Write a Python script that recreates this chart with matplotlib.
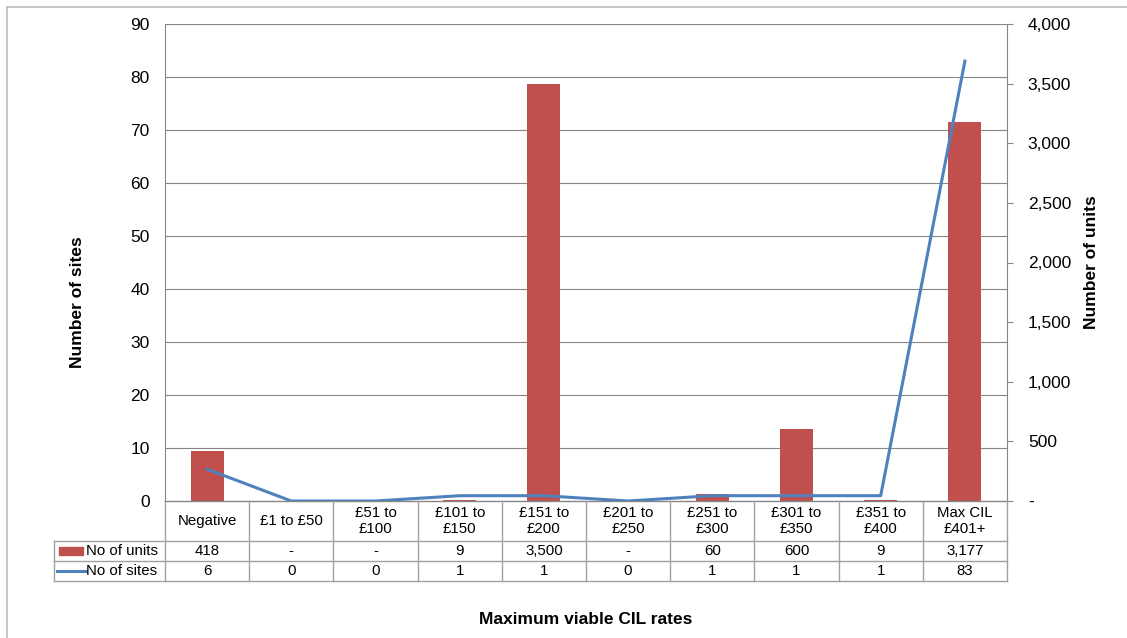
import matplotlib
matplotlib.use("Agg")
import matplotlib.pyplot as plt
from matplotlib.lines import Line2D
from matplotlib.patches import Rectangle
from matplotlib.transforms import blended_transform_factory

plt.rcParams['font.family'] = ['Liberation Sans', 'DejaVu Sans']

categories = ["Negative", "£1 to £50", "£51 to\n£100", "£101 to\n£150", "£151 to\n£200",
              "£201 to\n£250", "£251 to\n£300", "£301 to\n£350", "£351 to\n£400", "Max CIL\n£401+"]
units = [418, 0, 0, 9, 3500, 0, 60, 600, 9, 3177]
sites = [6, 0, 0, 1, 1, 0, 1, 1, 1, 83]
left_ticks = [0, 10, 20, 30, 40, 50, 60, 70, 80, 90]
right_ticks = [0, 500, 1000, 1500, 2000, 2500, 3000, 3500, 4000]

W, H = 1127, 638
fig = plt.figure(figsize=(W / 100, H / 100), dpi=100)

L, R, T, B = 165, 1007, 24, 501
rect = [L / W, (H - B) / H, (R - L) / W, (B - T) / H]
GRAY = "#868686"
RED = "#C0504D"
BLUE = "#4F81BD"
FS_TICK = 12.5
FS_TAB = 10.8

# outer chart border
fig.add_artist(Line2D([7 / W, 1.0], [1 - 7 / H, 1 - 7 / H], color="#BFBFBF", lw=1.2))
fig.add_artist(Line2D([7 / W, 7 / W], [0, 1 - 7 / H], color="#BFBFBF", lw=1.2))

ax_b = fig.add_axes(rect)   # bars, right axis
ax_l = fig.add_axes(rect)   # line, left axis
ax_l.patch.set_visible(False)

n = len(categories)
x = list(range(n))

# bars
ax_b.bar(x, units, width=0.39, color=RED, zorder=3)
ax_b.set_xlim(-0.5, n - 0.5)
ax_b.set_ylim(right_ticks[0], right_ticks[-1])
ax_b.yaxis.tick_right()
ax_b.set_yticks(right_ticks)
ax_b.set_yticklabels(["-" if v == 0 else f"{v:,}" for v in right_ticks], fontsize=FS_TICK, ha="left")
ax_b.tick_params(axis="y", direction="out", length=4, color=GRAY, pad=11)
ax_b.set_xticks([])
for s in ["left", "top", "bottom"]:
    ax_b.spines[s].set_visible(False)
ax_b.spines["right"].set_color(GRAY)

# gridlines (left axis) drawn behind bars
gtr = blended_transform_factory(ax_b.transAxes, ax_l.transData)
ax_l.set_ylim(left_ticks[0], left_ticks[-1])
for v in left_ticks[1:]:
    ax_b.add_line(Line2D([0, 1], [v, v], transform=gtr, color=GRAY, lw=0.8, zorder=1))

# line
ax_l.plot(x, sites, color=BLUE, lw=2.2, zorder=4)
ax_l.set_xlim(-0.5, n - 0.5)
ax_l.set_yticks(left_ticks)
ax_l.set_yticklabels([str(v) for v in left_ticks], fontsize=FS_TICK)
ax_l.tick_params(axis="y", length=0, pad=11)
ax_l.set_xticks([])
for s in ["right", "top", "bottom"]:
    ax_l.spines[s].set_visible(False)
ax_l.spines["left"].set_color(GRAY)

# axis titles
fig.text(77 / W, 1 - 302 / H, "Number of sites", rotation=90, ha="center", va="center",
         fontsize=FS_TICK, fontweight="bold")
fig.text(1091 / W, 1 - 262 / H, "Number of units", rotation=90, ha="center", va="center",
         fontsize=FS_TICK, fontweight="bold")
fig.text(586 / W, 1 - 619 / H, "Maximum viable CIL rates", ha="center", va="center",
         fontsize=FS_TICK, fontweight="bold")

# data table
ph = B - T
y0 = 0.0
y1 = -40 / ph
y2 = -60 / ph
y3 = -80 / ph
xleg = (54 - L) / (R - L) * n - 0.5
ttr = blended_transform_factory(ax_l.transData, ax_l.transAxes)
lkw = dict(transform=ttr, color="#A0A0A0", lw=1, clip_on=False)

ax_l.add_line(Line2D([-0.5, n - 0.5], [y0, y0], color=GRAY, lw=1, transform=ttr, clip_on=False))
for yy in [y1, y2, y3]:
    ax_l.add_line(Line2D([xleg, n - 0.5], [yy, yy], **lkw))
for i in range(n + 1):
    ax_l.add_line(Line2D([i - 0.5, i - 0.5], [y0, y3], **lkw))
ax_l.add_line(Line2D([xleg, xleg], [y1, y3], **lkw))

for i, c in enumerate(categories):
    ax_l.text(i, (y0 + y1) / 2, c, transform=ttr, ha="center", va="center",
              fontsize=FS_TAB, linespacing=1.2, clip_on=False)
    ax_l.text(i, (y1 + y2) / 2, "-" if units[i] == 0 else f"{units[i]:,}", transform=ttr,
              ha="center", va="center", fontsize=FS_TAB, clip_on=False)
    ax_l.text(i, (y2 + y3) / 2, str(sites[i]), transform=ttr,
              ha="center", va="center", fontsize=FS_TAB, clip_on=False)

# legend keys
u = (R - L) / n  # px per category
kx0 = xleg + 5 / u
kx1 = xleg + 29 / u
ax_l.add_patch(Rectangle((kx0, (y1 + y2) / 2 - 4 / ph), kx1 - kx0, 8 / ph,
                         transform=ttr, color=RED, clip_on=False))
ax_l.add_line(Line2D([xleg + 3 / u, xleg + 32 / u], [(y2 + y3) / 2] * 2, transform=ttr,
                     color=BLUE, lw=2.2, clip_on=False))
ax_l.text(xleg + 32 / u, (y1 + y2) / 2, "No of units", transform=ttr, ha="left", va="center",
          fontsize=FS_TAB, clip_on=False)
ax_l.text(xleg + 32 / u, (y2 + y3) / 2, "No of sites", transform=ttr, ha="left", va="center",
          fontsize=FS_TAB, clip_on=False)

fig.savefig("out.png", dpi=100)
